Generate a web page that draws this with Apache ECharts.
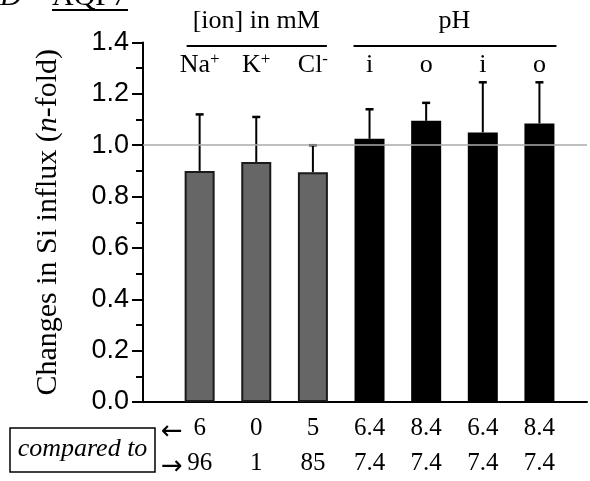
<!DOCTYPE html>
<html>
<head>
<meta charset="utf-8">
<script src="https://cdn.jsdelivr.net/npm/echarts@6/dist/echarts.min.js"></script>
<style>
  html, body { margin: 0; padding: 0; background: #fff; }
  #chart { width: 590px; height: 481px; }
</style>
</head>
<body>
<div id="chart"></div>
<script>
// ---- data ----
const categories = ['Na', 'K', 'Cl', 'i', 'o', 'i', 'o'];
const categorySups = ['+', '+', '-', '', '', '', ''];
const groupNames = ['[ion] in mM', 'pH'];
const values = [0.90, 0.935, 0.895, 1.025, 1.095, 1.05, 1.085];
const errors = [0.22, 0.175, 0.105, 0.115, 0.07, 0.195, 0.16];
const comparedFrom = ['6', '0', '5', '6.4', '8.4', '6.4', '8.4'];
const comparedTo = ['96', '1', '85', '7.4', '7.4', '7.4', '7.4'];
const yMin = 0, yMax = 1.4, yStep = 0.2;
const referenceValue = 1.0;
const yAxisTitle = ['Changes in Si influx (', 'n', '-fold)'];
const panelLetter = 'D';
const panelTitle = 'AQP7';
const boxText = 'compared to';

const SERIF = '"Liberation Serif", "Times New Roman", serif';
const SANS = '"Liberation Sans", Arial, sans-serif';
const n = categories.length;

const chart = echarts.init(document.getElementById('chart'), null, { renderer: 'canvas' });

const isIdx = v => Math.abs(v - Math.round(v)) < 1e-6 && Math.round(v) >= 0 && Math.round(v) < n;

const option = {
  animation: false,
  backgroundColor: '#fff',
  grid: { left: 143, right: 0, top: 42.5, bottom: 74.5 },
  xAxis: [{
    type: 'value', min: -1, max: 6.84, interval: 1,
    axisLine: { show: true, onZero: false, lineStyle: { color: '#000', width: 2 } },
    axisTick: { show: false },
    splitLine: { show: false },
    axisLabel: {
      margin: 9, color: '#000', fontFamily: SERIF, fontSize: 25, lineHeight: 35,
      showMinLabel: true, showMaxLabel: true,
      formatter: v => isIdx(v) ? comparedFrom[Math.round(v)] + '\n' + comparedTo[Math.round(v)] : ''
    }
  }, {
    type: 'value', min: -1, max: 6.84, interval: 1, position: 'top', offset: -45,
    axisLine: { show: false, onZero: false }, axisTick: { show: false }, splitLine: { show: false },
    axisLabel: {
      margin: 8, color: '#000', fontFamily: SERIF, fontSize: 26,
      formatter: v => {
        if (!isIdx(v)) return '';
        const i = Math.round(v);
        return categorySups[i] ? '{b|' + categories[i] + '}{s|' + categorySups[i] + '}' : '{b|' + categories[i] + '}';
      },
      rich: {
        b: { fontFamily: SERIF, fontSize: 26, lineHeight: 28, color: '#000' },
        s: { fontFamily: SERIF, fontSize: 17, lineHeight: 28, verticalAlign: 'top', color: '#000' }
      }
    }
  }],
  yAxis: {
    type: 'value', min: yMin, max: yMax, interval: yStep,
    name: '{r|' + yAxisTitle[0] + '}{i|' + yAxisTitle[1] + '}{r|' + yAxisTitle[2] + '}',
    nameLocation: 'middle', nameGap: 80, nameRotate: 90,
    nameTextStyle: {
      rich: {
        r: { fontFamily: SERIF, fontSize: 30, color: '#000' },
        i: { fontFamily: SERIF, fontSize: 30, fontStyle: 'italic', color: '#000' }
      }
    },
    axisLine: { show: true, onZero: false, lineStyle: { color: '#000', width: 2 } },
    axisTick: { show: true, length: 11, lineStyle: { color: '#000', width: 2 } },
    minorTick: { show: true, splitNumber: 2, length: 7, lineStyle: { color: '#000', width: 2 } },
    splitLine: { show: false },
    axisLabel: {
      margin: 14, color: '#000', fontFamily: SANS, fontSize: 27,
      formatter: v => v.toFixed(1)
    }
  },
  series: [{
    type: 'line', data: [], z: 1, silent: true,
    markLine: {
      silent: true, symbol: 'none', label: { show: false },
      lineStyle: { color: '#aaa', width: 1.5, type: 'solid' },
      data: [{ yAxis: referenceValue }]
    }
  }, {
    type: 'bar', z: 2, barWidth: 30,
    data: values.map((v, i) => ({
      value: [i, v],
      itemStyle: i < 3
        ? { color: '#666', borderColor: '#1a1a1a', borderWidth: 2 }
        : { color: '#000', borderColor: '#000', borderWidth: 0 }
    }))
  }, {
    type: 'custom', z: 3,
    data: values.map((v, i) => [i, v, errors[i]]),
    renderItem: (params, api) => {
      const x = api.value(0), v = api.value(1), e = api.value(2);
      const p0 = api.coord([x, v]);
      const p1 = api.coord([x, v + e]);
      const st = { stroke: '#000', lineWidth: 2 };
      return {
        type: 'group',
        children: [
          { type: 'line', shape: { x1: p0[0], y1: p0[1], x2: p1[0], y2: p1[1] }, style: st },
          { type: 'line', shape: { x1: p1[0] - 4, y1: p1[1], x2: p1[0] + 4, y2: p1[1] }, style: { stroke: '#000', lineWidth: 2.5 } }
        ]
      };
    }
  }]
};
chart.setOption(option);

// annotations positioned from the axis scale
const px = i => chart.convertToPixel({ xAxisIndex: 0 }, i);
const ionCenter = px(1);
const phCenter = (px(3) + px(6)) / 2;
chart.setOption({
  graphic: [
    { type: 'text', x: 0, y: -3, style: { text: panelLetter, font: 'italic 30px ' + SERIF, fill: '#000', verticalAlign: 'middle' } },
    { type: 'text', x: 52, y: -3, style: { text: panelTitle, font: '30px ' + SERIF, fill: '#000', verticalAlign: 'middle' } },
    { type: 'line', shape: { x1: 52, y1: 10, x2: 128, y2: 10 }, style: { stroke: '#000', lineWidth: 2 } },
    { type: 'text', x: ionCenter, y: 21, style: { text: groupNames[0], font: '26px ' + SERIF, fill: '#000', align: 'center', verticalAlign: 'middle' } },
    { type: 'text', x: phCenter, y: 21, style: { text: groupNames[1], font: '26px ' + SERIF, fill: '#000', align: 'center', verticalAlign: 'middle' } },
    { type: 'line', shape: { x1: px(0) - 13, y1: 46, x2: px(2) + 14, y2: 46 }, style: { stroke: '#000', lineWidth: 2 } },
    { type: 'line', shape: { x1: px(3) - 16, y1: 46, x2: px(6) + 17, y2: 46 }, style: { stroke: '#000', lineWidth: 2 } },
    { type: 'rect', shape: { x: 10, y: 428, width: 145, height: 44 }, style: { fill: 'none', stroke: '#000', lineWidth: 1.5 } },
    { type: 'text', x: 82.5, y: 449, style: { text: boxText, font: 'italic 26px ' + SERIF, fill: '#000', align: 'center', verticalAlign: 'middle' } },
    { type: 'text', x: 172, y: 432, style: { text: '\u2190', font: '26px "DejaVu Sans"', fill: '#000', align: 'center', verticalAlign: 'middle' } },
    { type: 'text', x: 172, y: 467, style: { text: '\u2192', font: '26px "DejaVu Sans"', fill: '#000', align: 'center', verticalAlign: 'middle' } }
  ]
});
</script>
</body>
</html>
